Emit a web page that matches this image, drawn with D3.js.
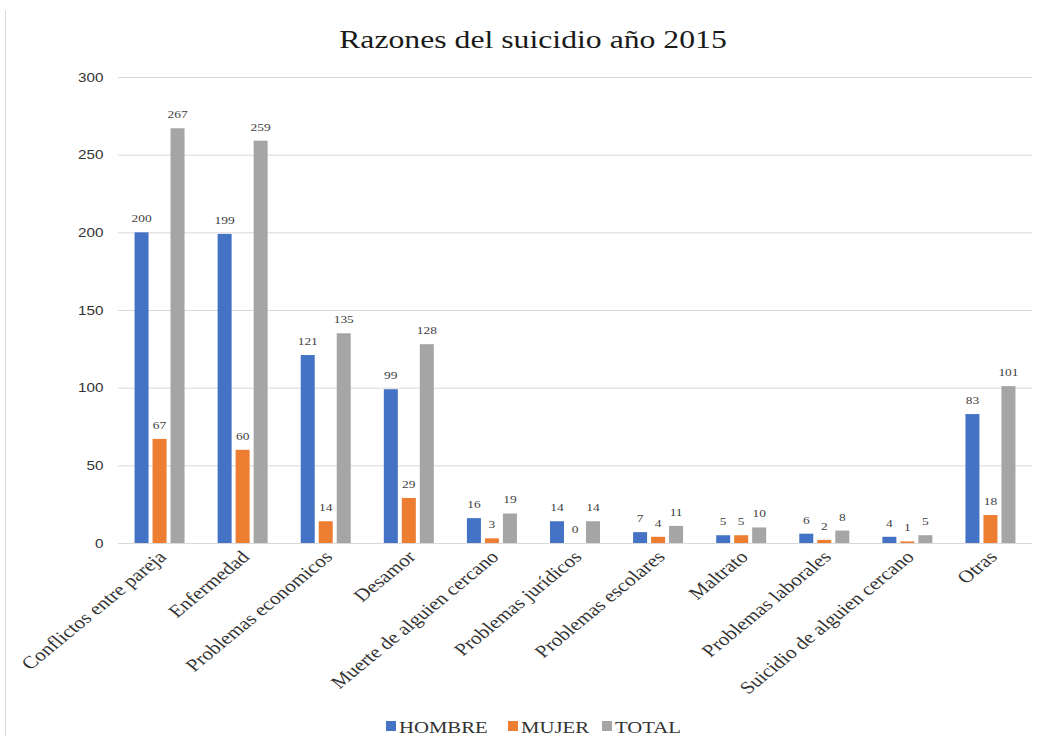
<!DOCTYPE html>
<html><head><meta charset="utf-8">
<script src="https://cdn.jsdelivr.net/npm/d3@7"></script>
<style>body{margin:0;background:#fff;}svg{display:block;}</style>
</head><body>
<svg id="c" width="1044" height="736"></svg>
<script>
const categories = ["Conflictos entre pareja","Enfermedad","Problemas economicos","Desamor","Muerte de alguien cercano","Problemas jurídicos","Problemas escolares","Maltrato","Problemas laborales","Suicidio de alguien cercano","Otras"];
const seriesNames = ["HOMBRE","MUJER","TOTAL"];
const hombre = [200,199,121,99,16,14,7,5,6,4,83];
const mujer = [67,60,14,29,3,0,4,5,2,1,18];
const total = [267,259,135,128,19,14,11,10,8,5,101];
const yTicks = [0,50,100,150,200,250,300];
const colors = ["#4472C4","#ED7D31","#A5A5A5"];
const series = [hombre, mujer, total];

const S = 1.22; // horizontal stretch of text
const svg = d3.select("#c");
const L = 118, R = 1032, T = 77, B = 543;

svg.append("line").attr("x1",5.5).attr("x2",5.5).attr("y1",10).attr("y2",736).attr("stroke","#d9d9d9");

svg.append("text").attr("transform",`translate(533,48) scale(${S},1)`).attr("text-anchor","middle")
  .attr("font-family","Liberation Serif, serif").attr("font-size",26).attr("fill","#1a1a1a")
  .text("Razones del suicidio año 2015");

const x = d3.scaleBand().domain(categories).range([L,R]);
const y = d3.scaleLinear().domain([0,300]).range([B,T]);
const barW = 14, step = 18;
const inner = d3.scaleBand().domain(seriesNames).range([-step*1.5, step*1.5]);

// grid
const yAxis = d3.axisLeft(y).tickValues(yTicks).tickSize(-(R-L)).tickPadding(12);
const ga = svg.append("g").attr("transform",`translate(${L},0)`).call(yAxis);
ga.select(".domain").remove();
ga.selectAll(".tick line").attr("stroke","#d9d9d9");
ga.selectAll(".tick text").attr("font-family","Liberation Sans, Arial, sans-serif").attr("font-size",12.5).attr("fill","#333")
  .attr("transform",`scale(${S},1)`);

// bars
series.forEach((vals,si)=>{
  const g = svg.append("g");
  const cx = i => x(categories[i])+x.bandwidth()/2+inner(seriesNames[si])+step/2;
  g.selectAll("rect").data(vals).join("rect")
    .attr("x",(d,i)=>cx(i)-barW/2)
    .attr("width",barW)
    .attr("y",d=>y(d)).attr("height",d=>B-y(d))
    .attr("fill",colors[si]);
  g.selectAll("text").data(vals).join("text")
    .attr("transform",(d,i)=>`translate(${cx(i)},${y(d)-10}) scale(${S},1)`)
    .attr("text-anchor","middle")
    .attr("font-family","Liberation Serif, serif").attr("font-size",11).attr("fill","#404040")
    .text(d=>d);
});

// x axis line
svg.append("line").attr("x1",L).attr("x2",R).attr("y1",B+0.5).attr("y2",B+0.5).attr("stroke","#d9d9d9");

// x labels
const xAxis = d3.axisBottom(x).tickSize(0).tickPadding(0);
const gx = svg.append("g").attr("transform",`translate(0,${B})`).call(xAxis);
gx.select(".domain").remove();
gx.selectAll(".tick text")
  .attr("font-family","Liberation Serif, serif").attr("font-size",17.5).attr("fill","#333")
  .attr("text-anchor","end").attr("dy",0).attr("y",0)
  .attr("transform",`translate(8,15) scale(${S},1) rotate(-45)`);

// legend
const lx = [386,508,602];
seriesNames.forEach((n,i)=>{
  svg.append("rect").attr("x",lx[i]).attr("y",721).attr("width",10).attr("height",10).attr("fill",colors[i]);
  svg.append("text").attr("transform",`translate(${lx[i]+13},733) scale(${S},1)`)
    .attr("font-family","Liberation Serif, serif").attr("font-size",17).attr("fill","#333").text(n);
});
</script>
</body></html>
